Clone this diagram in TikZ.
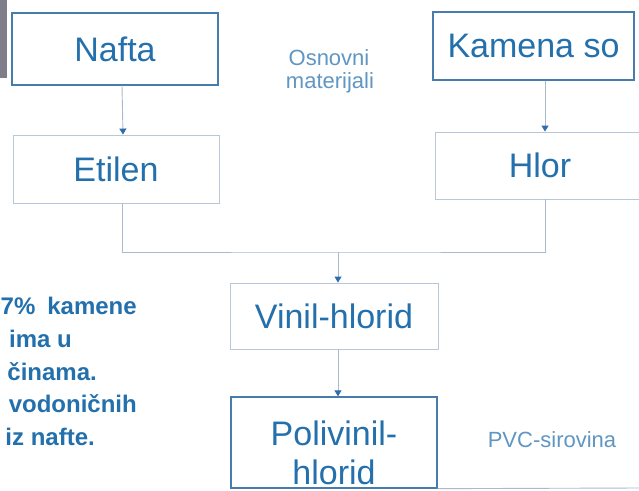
\documentclass[tikz,border=0pt]{standalone}
\usepackage{fontspec}
\setmainfont{Liberation Sans}
\usetikzlibrary{arrows.meta}
\definecolor{txtblue}{RGB}{35,112,172}
\definecolor{lighttxt}{RGB}{95,150,195}
\definecolor{boxdark}{RGB}{70,125,172}
\definecolor{boxlight}{RGB}{185,200,216}
\definecolor{linecol}{RGB}{170,186,204}
\definecolor{arrcol}{RGB}{45,110,170}
\definecolor{barcol}{RGB}{125,126,138}
\tikzset{
  darkbox/.style={draw=boxdark, line width=1.3pt, inner sep=0pt, text=txtblue, font=\fontsize{34}{40}\selectfont},
  lightbox/.style={draw=boxlight, line width=0.9pt, inner sep=0pt, text=txtblue, font=\fontsize{34}{40}\selectfont},
  bigtxt/.style={inner sep=0pt, text=txtblue, font=\fontsize{34}{40}\selectfont},
  smalltxt/.style={inner sep=0pt, text=lighttxt, font=\fontsize{22}{23}\selectfont},
  sidetxt/.style={inner sep=0pt, text=txtblue, font=\fontsize{24}{30}\selectfont\bfseries},
  conn/.style={draw=linecol, line width=0.9pt},
  arr/.style={-{Triangle[length=6pt,width=7pt,color=arrcol]}},
}
\begin{document}
\begin{tikzpicture}[x=1pt,y=-1pt]
\useasboundingbox (0,0) rectangle (639,490);
\fill[white] (0,0) rectangle (639,490);
% photo artefact bar at top left
\fill[barcol] (0,0) rectangle (7,78);

% boxes
\node[darkbox, minimum width=206pt, minimum height=72pt] (nafta) at (115,49) {Nafta};
\node[lightbox, minimum width=206pt, minimum height=68pt] (etilen) at (116,169) {Etilen};
\node[darkbox, minimum width=201pt, minimum height=68pt] (kamena) at (533.5,46) {Kamena so};
\node[lightbox, minimum width=210pt, minimum height=67pt] (hlor) at (540,165.5) {Hlor};
\node[lightbox, minimum width=208pt, minimum height=66pt] (vinil) at (334,316) {Vinil-hlorid};
\node[darkbox, minimum width=206pt, minimum height=91pt] (poli) at (334,442.5) {};
\node[bigtxt, anchor=base] (poli1) at (334,445) {Polivinil-};
\node[bigtxt, anchor=base] (poli2) at (334,484) {hlorid};

% side labels
\node[smalltxt, anchor=base] (osn1) at (329,65) {Osnovni};
\node[smalltxt, anchor=base] (osn2) at (330,88) {materijali};
\node[smalltxt, anchor=base] (pvc) at (552,447) {PVC-sirovina};

% left text
\node[sidetxt, anchor=base west] (l1) at (0.5,314) {7\%\hspace{12pt}kamene};
\node[sidetxt, anchor=base east] (l2) at (72,347) {ima u};
\node[sidetxt, anchor=base east] (l3) at (97,380) {činama.};
\node[sidetxt, anchor=base east] (l4) at (137,412) {vodoničnih};
\node[sidetxt, anchor=base east] (l5) at (95,445) {iz nafte.};

% connectors
\coordinate (join) at (338,252);
\coordinate (edge) at (639,488);
\draw[conn, arr] ([xshift=7pt]nafta.south) -- ([xshift=7pt]etilen.north);
\draw[conn, arr] ([xshift=11.5pt]kamena.south) -- ([xshift=5pt]hlor.north);
\draw[conn] ([xshift=6pt]etilen.south) |- (join) -| ([xshift=5pt]hlor.south);
\draw[conn, arr] (join) -- (join |- vinil.north);
\draw[conn, arr] ([xshift=4pt]vinil.south) -- ([xshift=4pt]poli.north);
\draw[conn] (poli.south east) -- (edge);
\end{tikzpicture}
\end{document}
